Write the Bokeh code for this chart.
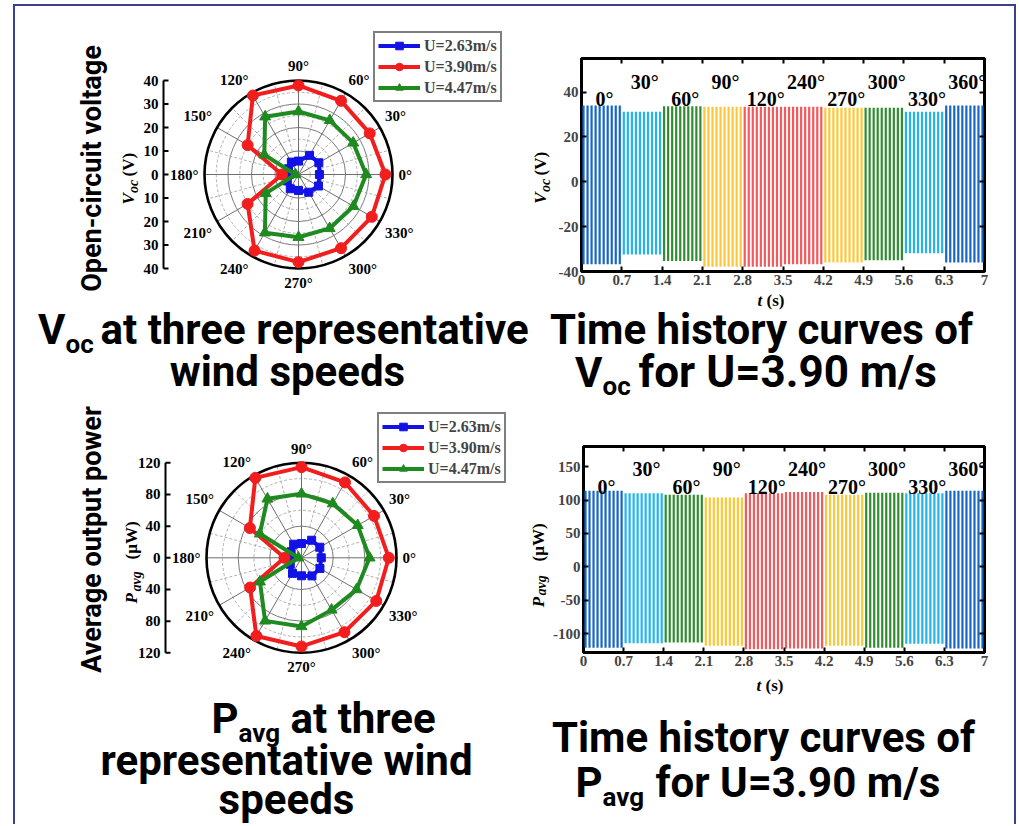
import math
from bokeh.plotting import figure
from bokeh.layouts import column, row
from bokeh.models import FixedTicker, LinearAxis, Legend, LegendItem, Range1d, Spacer
from bokeh.core.properties import value
from bokeh.embed import file_html
from bokeh.resources import INLINE

SERIF = "Liberation Serif"
SANS = "Roboto"
K_MID = 0.34  # distance from baseline to the middle of the text box, in em

# ---------------- data ----------------
angles_deg = [0, 30, 60, 90, 120, 150, 180, 210, 240, 270, 300, 330]
angle_labels = ["0°", "30°", "60°", "90°", "120°", "150°", "180°", "210°", "240°", "270°", "300°", "330°"]
speed_labels = ["U=2.63m/s", "U=3.90m/s", "U=4.47m/s"]

voc_u263 = [8.9, 10.0, 9.4, 5.7, 6.1, 4.9, 3.8, 5.5, 7.0, 6.8, 8.7, 9.8]
voc_u390 = [37.0, 35.0, 36.2, 37.9, 38.8, 25.0, 7.0, 25.0, 37.4, 37.3, 36.2, 36.0]
voc_u447 = [28.8, 26.9, 26.6, 26.8, 28.4, 16.8, 1.3, 16.1, 28.6, 26.7, 26.5, 27.0]

pavg_u263 = [25.0, 26.7, 25.6, 18.0, 19.8, 15.2, 12.6, 16.4, 22.7, 22.7, 26.4, 26.9]
pavg_u390 = [110.3, 105.8, 109.9, 114.5, 116.6, 75.3, 21.5, 75.0, 114.0, 112.0, 108.5, 109.0]
pavg_u447 = [86.0, 82.0, 79.0, 80.8, 86.0, 60.8, 4.0, 60.6, 92.0, 86.7, 76.0, 80.3]

voc_radial_ticks = [-40, -30, -20, -10, 0, 10, 20, 30, 40]
pavg_radial_ticks = [-120, -80, -40, 0, 40, 80, 120]

time_ticks = [0, 0.7, 1.4, 2.1, 2.8, 3.5, 4.2, 4.9, 5.6, 6.3, 7.0]
time_tick_labels = ["0", "0.7", "1.4", "2.1", "2.8", "3.5", "4.2", "4.9", "5.6", "6.3", "7"]
seg_labels = ["0°", "30°", "60°", "90°", "120°", "240°", "270°", "300°", "330°", "360°"]
seg_start = [0.0, 0.7, 1.4, 2.1, 2.8, 3.5, 4.2, 4.9, 5.6, 6.3]
seg_cycles = [10, 10, 10, 10, 10, 10, 10, 10, 10, 10]

voc_seg_max = [34.0, 31.3, 33.7, 33.5, 33.5, 33.5, 33.0, 33.0, 31.3, 34.0]
voc_seg_min = [-36.8, -32.4, -35.3, -37.9, -37.9, -36.8, -36.0, -35.0, -31.9, -36.0]
voc_time_ticks = [-40, -20, 0, 20, 40]

pavg_seg_max = [113.8, 110.0, 107.8, 103.8, 110.0, 112.0, 108.0, 111.0, 110.0, 114.0]
pavg_seg_min = [-120.8, -114.0, -113.0, -118.0, -123.0, -122.0, -118.0, -121.0, -115.0, -122.0]
pavg_time_ticks = [-100, -50, 0, 50, 100, 150]

SPEED_COLORS = ["#1212e6", "#f21d1d", "#1f8a1f"]
SPEED_MARKERS = ["square", "circle", "triangle"]
SPEED_SIZES = [8, 11, 11]
SEG_COLORS = ["#1766c6", "#22b4ee", "#2f8d2f", "#fdc73a", "#f45a5d",
              "#f45a5d", "#fdc73a", "#2f8d2f", "#22b4ee", "#1766c6"]


def no_align(p):
    try:
        p.frame_align = False
    except Exception:
        pass


def ptext(p, conv, px, py, text, size, style, font=SERIF, align="left", baseline="alphabetic", angle=0.0):
    """Place a text at page pixel (px, py); for 'alphabetic' the point is the baseline."""
    if baseline == "alphabetic":
        s = float(size.replace("px", ""))
        if abs(angle) > 0.1:
            px = px - K_MID * s
        else:
            py = py - K_MID * s
        baseline = "middle"
    x, y = conv(px, py)
    p.text(x=[x], y=[y], text=[text], angle=angle, text_align=align, text_baseline=baseline,
           text_font=value(font), text_font_style=style, text_font_size=size, text_color="black")


def polar_panel(series, rticks, rstep, canvas, center, ppu, axis_px, legend_loc):
    cl, ct, cw, ch = canvas
    cx, cy = center
    conv = lambda px, py: ((px - cx) / ppu, (cy - py) / ppu)
    p = figure(width=cw, height=ch,
               x_range=Range1d((cl - cx) / ppu, (cl + cw - cx) / ppu),
               y_range=Range1d((cy - (ct + ch)) / ppu, (cy - ct) / ppu),
               x_axis_location=None, y_axis_location=None, title=None,
               toolbar_location=None, output_backend="svg", min_border=0)
    no_align(p)
    p.outline_line_color = None
    p.grid.visible = False
    rmax = rticks[-1]

    nring = int(round(rmax / rstep))
    solid = [rstep * k for k in range(1, nring)]
    dashed = [rstep * (k + 0.5) for k in range(0, nring)]
    p.circle(x=[0] * len(dashed), y=[0] * len(dashed), radius=dashed, fill_color=None,
             line_color="#a8a8a8", line_width=0.9, line_dash="3 2")
    p.circle(x=[0] * len(solid), y=[0] * len(solid), radius=solid, fill_color=None,
             line_color="#7a7a7a", line_width=1.0)
    sa = [math.radians(a) for a in range(0, 360, 30)]
    p.segment(x0=0, y0=0, x1=[rmax * math.cos(a) for a in sa], y1=[rmax * math.sin(a) for a in sa],
              line_color="#6e6e6e", line_width=1.0)
    da = [math.radians(a) for a in range(15, 360, 30)]
    p.segment(x0=[rstep * math.cos(a) for a in da], y0=[rstep * math.sin(a) for a in da],
              x1=[rmax * math.cos(a) for a in da], y1=[rmax * math.sin(a) for a in da],
              line_color="#a8a8a8", line_width=0.9, line_dash="3 2")
    p.circle(x=[0], y=[0], radius=[rmax], fill_color=None, line_color="black", line_width=2.6)

    # radial axis (linear r scale drawn at the left)
    ax_x = conv(axis_px, 0)[0]
    p.segment(x0=[ax_x], y0=[rticks[0]], x1=[ax_x], y1=[rticks[-1]], line_color="black", line_width=2)
    p.segment(x0=[ax_x] * len(rticks), y0=rticks, x1=[ax_x + 5 / ppu] * len(rticks), y1=rticks,
              line_color="black", line_width=2)
    p.text(x=[ax_x - 5 / ppu] * len(rticks), y=rticks, text=[str(abs(t)) for t in rticks],
           text_align="right", text_baseline="middle", text_font=value(SERIF),
           text_font_style="bold", text_font_size="15px", text_color="black")

    items = []
    th = [math.radians(a) for a in angles_deg]
    for vals, lab, color, marker, msize in zip(series, speed_labels, SPEED_COLORS, SPEED_MARKERS, SPEED_SIZES):
        xs = [v * math.cos(t) for v, t in zip(vals, th)]
        ys = [v * math.sin(t) for v, t in zip(vals, th)]
        lr = p.line(xs + xs[:1], ys + ys[:1], line_color=color, line_width=4, line_join="round")
        sr = p.scatter(xs, ys, marker=marker, size=msize, fill_color=color, line_color=color)
        items.append(LegendItem(label=lab, renderers=[lr, sr]))
    leg = Legend(items=items, location=legend_loc,
                 border_line_color="black", border_line_width=2, background_fill_color="white",
                 background_fill_alpha=1.0, label_text_font=SERIF, label_text_font_style="bold",
                 label_text_font_size="16px", glyph_width=42, glyph_height=19, label_height=19,
                 label_standoff=4, spacing=2, padding=3, margin=0)
    p.add_layout(leg)

    rlab = rmax * 1.064
    for a, t in zip(angles_deg, angle_labels):
        c, s = math.cos(math.radians(a)), math.sin(math.radians(a))
        align = "left" if c > 0.1 else ("right" if c < -0.1 else "center")
        base = "bottom" if s > 0.1 else ("top" if s < -0.1 else "middle")
        p.text(x=[rlab * c], y=[rlab * s], text=[t], text_align=align, text_baseline=base,
               text_font=value(SERIF), text_font_style="bold", text_font_size="15px", text_color="black")
    return p, conv


def time_panel(canvas, borders, yr, yticks, seg_max, seg_min, label_y, x_standoff):
    cl, ct, cw, ch = canvas
    bl, br, bt, bb = borders
    p = figure(width=cw, height=ch, x_range=Range1d(0, 7), y_range=Range1d(*yr), title=None,
               toolbar_location=None, output_backend="svg",
               min_border_left=bl, min_border_right=br, min_border_top=bt, min_border_bottom=bb)
    no_align(p)
    p.grid.visible = False
    p.outline_line_color = "black"
    p.outline_line_width = 3

    xs, y0, y1, cols = [], [], [], []
    for i in range(len(seg_labels)):
        dt = 0.7 / seg_cycles[i]
        for k in range(seg_cycles[i]):
            t = seg_start[i] + (k + 0.5) * dt
            xs.append(t); y0.append(seg_min[i]); y1.append(seg_max[i]); cols.append(SEG_COLORS[i])
    p.segment(x0=xs, y0=y0, x1=xs, y1=y1, line_color=cols, line_width=2.2)

    lx = [s + 0.35 + 0.05 for s in seg_start]
    ly = [label_y[i % 2] for i in range(len(seg_labels))]
    p.text(x=lx, y=ly, text=seg_labels, text_align="center", text_baseline="middle",
           text_font=value(SERIF), text_font_style="bold", text_font_size="20px", text_color="black")

    p.xaxis.ticker = FixedTicker(ticks=time_ticks)
    p.xaxis.major_label_overrides = {t: l for t, l in zip(time_ticks, time_tick_labels)}
    p.yaxis.ticker = FixedTicker(ticks=yticks)
    p.yaxis.major_label_overrides = {t: str(t) for t in yticks}
    p.add_layout(LinearAxis(ticker=FixedTicker(ticks=time_ticks)), "above")
    p.add_layout(LinearAxis(ticker=FixedTicker(ticks=yticks)), "right")
    for ax in p.axis:
        ax.axis_line_color = None
        ax.major_tick_in = 5
        ax.major_tick_out = 0
        ax.major_tick_line_width = 2
        ax.minor_tick_line_color = None
        ax.major_label_text_font = SERIF
        ax.major_label_text_font_style = "bold"
        ax.major_label_text_font_size = "15px"
        ax.major_label_standoff = 3
    for ax in p.above + p.right:
        ax.major_label_text_font_size = "1px"
        ax.major_label_text_color = None
        ax.major_label_standoff = 0
    p.xaxis[0].major_label_standoff = x_standoff
    return p


# ---------------- row 1 (page y 6..291) ----------------
p_tl, conv_tl = polar_panel([voc_u263, voc_u390, voc_u447], voc_radial_ticks, 10,
                            (15, 6, 540, 285), (298, 174), 94 / 40, 163, (358, 189))
ptext(p_tl, conv_tl, 91, 168, "Open-circuit voltage", "27px", "bold", font=SANS,
      align="center", baseline="middle", angle=math.pi / 2)
ptext(p_tl, conv_tl, 134, 204, "V", "17px", "bold italic", angle=math.pi / 2)
ptext(p_tl, conv_tl, 138, 192.5, "oc", "14px", "bold italic", angle=math.pi / 2)
ptext(p_tl, conv_tl, 134, 176, "(V)", "17px", "bold", angle=math.pi / 2)
# y-axis title of the neighbouring time-history panel
ptext(p_tl, conv_tl, 546, 203.3, "V", "17px", "bold italic", angle=math.pi / 2)
ptext(p_tl, conv_tl, 550, 191.5, "oc", "14px", "bold italic", angle=math.pi / 2)
ptext(p_tl, conv_tl, 546, 175, "(V)", "17px", "bold", angle=math.pi / 2)

p_tr = time_panel((555, 6, 459, 285), (25, 30, 52, 20), (-40, 55), voc_time_ticks,
                  voc_seg_max, voc_seg_min, (37, 44.4), 2)

# ---------------- row 3 (page y 401..675) ----------------
p_bl, conv_bl = polar_panel([pavg_u263, pavg_u390, pavg_u447], pavg_radial_ticks, 40,
                            (15, 401, 535, 274), (301, 557.3), 95 / 120, 165, (362, 192))
ptext(p_bl, conv_bl, 91, 539, "Average output power", "27px", "bold", font=SANS,
      align="center", baseline="middle", angle=math.pi / 2)
ptext(p_bl, conv_bl, 137, 603, "P", "17px", "bold italic", angle=math.pi / 2)
ptext(p_bl, conv_bl, 141, 591, "avg", "14px", "bold italic", angle=math.pi / 2)
ptext(p_bl, conv_bl, 137, 559, "(µW)", "17px", "bold", angle=math.pi / 2)
ptext(p_bl, conv_bl, 544, 606.7, "P", "17px", "bold italic", angle=math.pi / 2)
ptext(p_bl, conv_bl, 546, 595, "avg", "14px", "bold italic", angle=math.pi / 2)
ptext(p_bl, conv_bl, 544, 561, "(µW)", "17px", "bold", angle=math.pi / 2)

p_br = time_panel((550, 401, 464, 274), (31, 30, 45, 23), (-128, 180), pavg_time_ticks,
                  pavg_seg_max, pavg_seg_min, (118.7, 146), 4)


# ---------------- caption rows ----------------
def caption_fig(top, height, pieces):
    p = figure(width=999, height=height, x_range=Range1d(15, 1014), y_range=Range1d(top + height, top),
               x_axis_location=None, y_axis_location=None, title=None, toolbar_location=None,
               output_backend="svg", min_border=0)
    no_align(p)
    p.outline_line_color = None
    p.grid.visible = False
    ident = lambda px, py: (px, py)
    for text, x, y, size, align, font, style in pieces:
        ptext(p, ident, x, y, text, size, style, font=font, align=align)
    return p


B = "bold"
cap1 = caption_fig(291, 110, [
    ("t", 757, 306, "17px", "left", SERIF, "bold italic"),
    ("(s)", 766, 306, "17px", "left", SERIF, B),
    ("V", 65, 343, "42px", "right", SANS, B),
    ("oc", 65, 352, "26px", "left", SANS, B),
    ("at three representative", 100, 343, "42px", "left", SANS, B),
    ("wind speeds", 287, 385, "42px", "center", SANS, B),
    ("Time history curves of", 761, 343, "42px", "center", SANS, B),
    ("V", 602, 386, "42px", "right", SANS, B),
    ("oc", 602, 394, "26px", "left", SANS, B),
    ("for U=3.90 m/s", 638, 386, "44px", "left", SANS, B),
])
cap2 = caption_fig(675, 149, [
    ("t", 756, 691, "17px", "left", SERIF, "bold italic"),
    ("(s)", 765, 691, "17px", "left", SERIF, B),
    ("P", 238, 732, "42px", "right", SANS, B),
    ("avg", 238, 741, "26px", "left", SANS, B),
    ("at three", 290, 732, "42px", "left", SANS, B),
    ("representative wind", 286, 774, "42px", "center", SANS, B),
    ("speeds", 286, 813, "42px", "center", SANS, B),
    ("Time history curves of", 763, 751, "42px", "center", SANS, B),
    ("P", 602, 796, "42px", "right", SANS, B),
    ("avg", 602, 805, "26px", "left", SANS, B),
    ("for U=3.90 m/s", 655, 796, "42px", "left", SANS, B),
])

BORDER = "2px solid #3b3f8f"
body = column(row(p_tl, p_tr), cap1, row(p_bl, p_br), cap2,
              styles={"border-top": BORDER, "border-left": BORDER, "border-right": BORDER})
page = column(Spacer(width=10, height=4), row(Spacer(width=13, height=10), body))

open("out.html", "w").write(file_html(page, INLINE))
